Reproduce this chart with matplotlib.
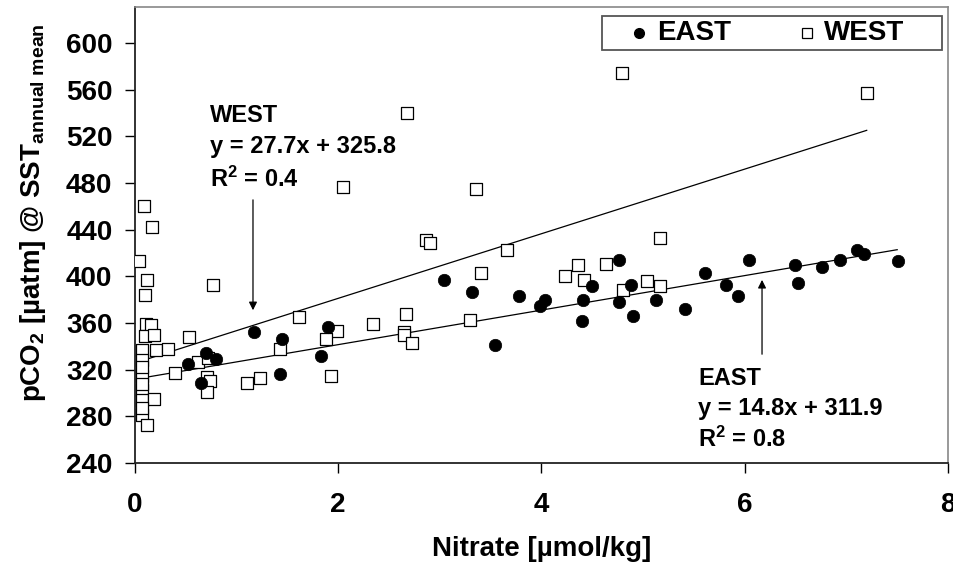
import matplotlib
matplotlib.use("Agg")
import matplotlib.pyplot as plt
from matplotlib.patches import Rectangle
import numpy as np

plt.rcParams['font.family'] = ['Liberation Sans', 'DejaVu Sans']
plt.rcParams['font.weight'] = 'bold'
plt.rcParams['mathtext.fontset'] = 'custom'
plt.rcParams['mathtext.rm'] = 'Liberation Sans:bold'
plt.rcParams['mathtext.it'] = 'Liberation Sans:bold'
plt.rcParams['mathtext.bf'] = 'Liberation Sans:bold'
plt.rcParams['mathtext.sf'] = 'Liberation Sans'

# ---- data ----
east_x = [0.52, 0.65, 0.70, 0.80, 1.17, 1.43, 1.45, 1.83, 1.90, 3.04, 3.32, 3.54,
          3.78, 3.99, 4.03, 4.40, 4.41, 4.50, 4.76, 4.76, 4.88, 4.90, 5.13, 5.41,
          5.61, 5.82, 5.93, 6.04, 6.49, 6.52, 6.76, 6.94, 7.10, 7.17, 7.51]
east_y = [325, 309, 334, 329, 352, 316, 346, 332, 357, 397, 387, 341,
          383, 375, 380, 362, 380, 392, 414, 378, 393, 366, 380, 372,
          403, 393, 383, 414, 410, 394, 408, 414, 423, 419, 413]

west_x = [0.04, 0.09, 0.17, 0.115, 0.10, 0.77, 0.11, 0.155, 0.10, 0.19, 0.07, 0.21,
          0.32, 0.53, 1.61, 0.07, 0.066, 0.39, 0.62, 0.72, 0.71, 0.74, 0.71, 1.10,
          1.23, 0.07, 0.07, 0.19, 0.07, 0.115, 0.07, 0.07, 0.07, 1.43, 2.68, 2.05,
          3.36, 2.86, 2.90, 3.66, 5.17, 3.40, 1.99, 1.88, 2.34, 2.67, 2.65, 2.65,
          2.73, 1.93, 3.30, 4.23, 4.36, 4.42, 4.63, 4.80, 5.04, 5.17, 4.79, 7.20]
west_y = [413, 460, 442, 397, 384, 393, 359, 358, 349, 350, 337, 337,
          338, 348, 365, 328, 315, 317, 327, 330, 314, 310, 301, 309,
          313, 303, 294, 295, 281, 273, 322, 308, 287, 338, 540, 477,
          475, 431, 429, 423, 433, 403, 353, 346, 359, 368, 352, 350,
          343, 315, 363, 400, 410, 397, 411, 388, 396, 392, 574, 557]

# regression lines (slope, intercept, x range)
west_fit = (27.7, 325.8, 0.1, 7.2)
east_fit = (14.8, 311.9, 0.1, 7.5)

x_ticks = [0, 2, 4, 6, 8]
y_ticks = [240, 280, 320, 360, 400, 440, 480, 520, 560, 600]

series_labels = ['EAST', 'WEST']

# ---- figure ----
fig = plt.figure(figsize=(9.54, 5.69), dpi=100)
ax = fig.add_axes([135/954, 1-463/569, (948-135)/954, (463-7)/569])

for (m, b, x0, x1) in (west_fit, east_fit):
    xs = np.array([x0, x1])
    ax.plot(xs, m*xs + b, color='black', lw=0.9, zorder=2)

ax.scatter(west_x, west_y, marker='s', s=85, facecolors='white',
           edgecolors='black', linewidths=0.9, zorder=3)
ax.scatter(east_x, east_y, marker='o', s=80, facecolors='black',
           edgecolors='black', linewidths=0.5, zorder=4)

ax.set_xlim(0, 8)
ax.set_ylim(240, 631)
ax.set_xticks(x_ticks)
ax.set_yticks(y_ticks)
ax.tick_params(axis='both', direction='out', length=7.2, width=1, labelsize=20)
ax.tick_params(axis='y', pad=9)
ax.tick_params(axis='x', pad=14)
for lab in ax.get_xticklabels() + ax.get_yticklabels():
    lab.set_fontweight('bold')

for s in ('left', 'bottom'):
    ax.spines[s].set_color('#222222')
    ax.spines[s].set_linewidth(1.3)
for s in ('top', 'right'):
    ax.spines[s].set_color('#888888')
    ax.spines[s].set_linewidth(1.2)

ax.set_xlabel('Nitrate [µmol/kg]', fontsize=20, fontweight='bold', va='center')
ax.xaxis.set_label_coords(0.5, -(549-463)/456)
ax.set_ylabel(r'pCO$_{2}$ [µatm] @ SST$_{\mathsf{annual\ mean}}$',
              fontsize=20, fontweight='bold', va='center')
ax.yaxis.set_label_coords(-(135-33)/813, 0.55)

# legend (drawn manually to match the frame layout)
tA = ax.transAxes
def ax_x(px):
    return (px - 135) / 813
def ax_y(py):
    return 1 - (py - 7) / 456
ax.add_patch(Rectangle((ax_x(602), ax_y(50)), ax_x(942) - ax_x(602), ax_y(16) - ax_y(50),
                       transform=tA, facecolor='white', edgecolor='#555555',
                       lw=1.3, zorder=6, clip_on=False))
ax.plot([ax_x(639)], [ax_y(33)], marker='o', ms=7, color='black', transform=tA,
        zorder=7, clip_on=False)
ax.text(ax_x(657), ax_y(33), series_labels[0], fontsize=20, fontweight='bold',
        va='center', ha='left', transform=tA, zorder=7)
ax.plot([ax_x(807)], [ax_y(33)], marker='s', ms=7, mfc='white', mec='black',
        mew=0.9, transform=tA, zorder=7, clip_on=False)
ax.text(ax_x(824), ax_y(33), series_labels[1], fontsize=20, fontweight='bold',
        va='center', ha='left', transform=tA, zorder=7)

# annotations
ax.text(0.738, 532, 'WEST', fontsize=17, fontweight='bold', va='baseline')
ax.text(0.738, 505.5, 'y = 27.7x + 325.8', fontsize=17, fontweight='bold', va='baseline')
ax.text(0.738, 476.5, r'R$^{2}$ = 0.4', fontsize=17, fontweight='bold', va='baseline')
ax.annotate('', xy=(1.161, 368.6), xytext=(1.161, 468),
            arrowprops=dict(arrowstyle='-|>', color='black', lw=0.9, mutation_scale=12))

ax.text(5.54, 307, 'EAST', fontsize=17, fontweight='bold', va='baseline')
ax.text(5.54, 281, 'y = 14.8x + 311.9', fontsize=17, fontweight='bold', va='baseline')
ax.text(5.54, 253.7, r'R$^{2}$ = 0.8', fontsize=17, fontweight='bold', va='baseline')
ax.annotate('', xy=(6.17, 399.4), xytext=(6.17, 330.9),
            arrowprops=dict(arrowstyle='-|>', color='black', lw=0.9, mutation_scale=12))

fig.savefig('out.png', dpi=100)
